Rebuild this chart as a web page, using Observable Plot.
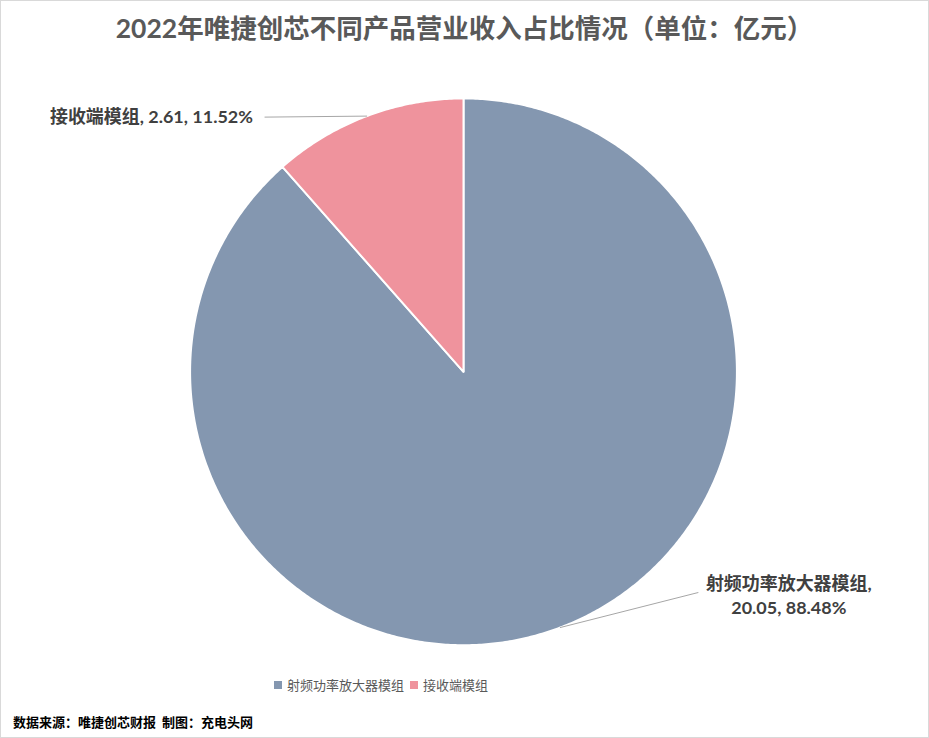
<!DOCTYPE html>
<html>
<head>
<meta charset="utf-8">
<script src="https://cdn.jsdelivr.net/npm/d3@7"></script>
<script src="https://cdn.jsdelivr.net/npm/@observablehq/plot@0.6"></script>
<style>
  html, body { margin: 0; padding: 0; background: #fff; }
  #wrap {
    position: relative; width: 929px; height: 738px; box-sizing: border-box;
    border: 1px solid #d9d9d9; overflow: hidden;
    font-family: Lato, "Noto Sans CJK SC", sans-serif;
  }
  #title {
    height: 55px; line-height: 55px; text-align: center;
    font-size: 26.5px; font-weight: bold; color: #595959;
  }
  #chart { height: 600px; }
  #legend {
    position: absolute; left: 273px; top: 674px; display: flex; align-items: center;
    font-size: 13px; color: #595959; font-family: "Noto Sans CJK SC", sans-serif;
  }
  #legend .sw { display: inline-block; width: 8px; height: 8px; margin-right: 5px; }
  #legend .it { display: flex; align-items: center; margin-right: 6px; }
  #caption {
    position: absolute; left: 12px; top: 711px; font-size: 13px; font-weight: bold; color: #000;
    font-family: "Noto Sans CJK SC", sans-serif;
  }
</style>
</head>
<body>
<div id="wrap">
  <div id="title">2022年唯捷创芯不同产品营业收入占比情况（单位：亿元）</div>
  <div id="chart"></div>
  <div id="legend"></div>
  <div id="caption">数据来源：唯捷创芯财报&nbsp;&nbsp;制图：充电头网</div>
</div>
<script>
// ---- data ----
const categories = ["射频功率放大器模组", "接收端模组"];
const values = [20.05, 2.61];
const percents = ["88.48%", "11.52%"];
const colors = ["#8497B0", "#EF939D"];

// ---- layout (pixels) ----
const W = 929, H = 600, R = 274, CX = 463, CY = 316;
const leaderLayout = {
  "射频功率放大器模组": { elbow: [134, -34], end: [138, -35], label: [229, -33], anchor: "middle" },
  "接收端模组": { elbow: [-102, 1], end: [-102, 1], label: [-114, 1], anchor: "end" }
};

const pie = d3.pie().sort(null).value(d => d.value)(
  categories.map((name, i) => ({ name, value: values[i], pct: percents[i] }))
);

// slice polygons (unit circle, angle clockwise from 12 o'clock)
const piePts = [];
for (const a of pie) {
  const name = a.data.name;
  piePts.push({ name, x: 0, y: 0 });
  const n = Math.max(2, Math.ceil((a.endAngle - a.startAngle) / (Math.PI / 360)));
  for (let k = 0; k <= n; k++) {
    const t = a.startAngle + (a.endAngle - a.startAngle) * k / n;
    piePts.push({ name, x: Math.sin(t), y: Math.cos(t) });
  }
  piePts.push({ name, x: 0, y: 0 });
}

// leader lines and labels
const leaderPts = [];
const labels = [];
for (const a of pie) {
  const name = a.data.name;
  const m = (a.startAngle + a.endAngle) / 2;
  const mx = Math.sin(m), my = Math.cos(m);
  const L = leaderLayout[name];
  leaderPts.push({ name, x: mx, y: my });
  leaderPts.push({ name, x: mx + L.elbow[0] / R, y: my - L.elbow[1] / R });
  leaderPts.push({ name, x: mx + L.end[0] / R, y: my - L.end[1] / R });
  labels.push({
    name, anchor: L.anchor,
    x: mx + L.label[0] / R, y: my - L.label[1] / R,
    text: L.anchor === "middle"
      ? `${name},\n${a.data.value}, ${a.data.pct}`
      : `${name}, ${a.data.value}, ${a.data.pct}`
  });
}

const chart = Plot.plot({
  width: W, height: H, margin: 0,
  x: { domain: [-CX / R, (W - CX) / R], axis: null },
  y: { domain: [-(H - CY) / R, CY / R], axis: null },
  color: { domain: categories, range: colors },
  style: { fontFamily: 'Lato, "Noto Sans CJK SC", sans-serif', background: "transparent" },
  marks: [
    Plot.line(piePts, { x: "x", y: "y", z: "name", fill: "name", stroke: "white", strokeWidth: 2, curve: "linear" }),
    Plot.line(leaderPts, { x: "x", y: "y", z: "name", stroke: "#a6a6a6", strokeWidth: 1 }),
    Plot.text(labels.filter(d => d.anchor === "end"), {
      x: "x", y: "y", text: "text", textAnchor: "end", fontSize: 18, fontWeight: "bold", fill: "#404040"
    }),
    Plot.text(labels.filter(d => d.anchor === "middle"), {
      x: "x", y: "y", text: "text", textAnchor: "middle", lineHeight: 1.33, fontSize: 18, fontWeight: "bold", fill: "#404040"
    })
  ]
});
document.getElementById("chart").appendChild(chart);

// legend
const lg = document.getElementById("legend");
categories.forEach((c, i) => {
  const it = document.createElement("span");
  it.className = "it";
  it.innerHTML = `<span class="sw" style="background:${colors[i]}"></span>${c}`;
  lg.appendChild(it);
});
</script>
</body>
</html>
